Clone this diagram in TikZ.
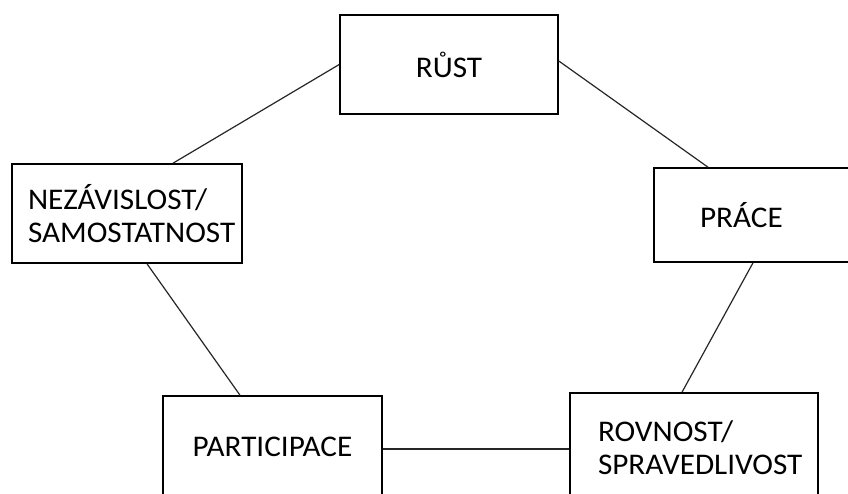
\documentclass[tikz,border=0pt]{standalone}
\usepackage{fontspec}
\setmainfont{Carlito}[FakeStretch=1.04]
\begin{document}
\begin{tikzpicture}[x=1pt,y=-1pt,
  box/.style={draw=black, line width=1.6pt, rectangle, font=\fontsize{30}{33}\selectfont, text=black},
  leftbox/.style={box, align=left},
  link/.style={draw=black!85, line width=1.2pt}]
\useasboundingbox (0,0) rectangle (848,493);
\clip (0,0) rectangle (848,493);
\fill[white] (0,0) rectangle (848,493);
\node[box, minimum width=218pt, minimum height=99pt, inner sep=0pt] (rust) at (449,64.5) {RŮST};
\node[leftbox, minimum width=200pt, minimum height=94pt, inner xsep=46pt, inner ysep=0pt, text width=108pt] (prace) at (754,215) {PRÁCE};
\node[leftbox, minimum width=230pt, minimum height=99pt, inner xsep=16pt, inner ysep=0pt, text width=198pt] (nez) at (127,213.5) {NEZÁVISLOST/\\SAMOSTATNOST};
\node[box, minimum width=219pt, minimum height=102pt, inner sep=0pt] (part) at (272.5,447) {PARTICIPACE};
\node[leftbox, minimum width=248pt, minimum height=109pt, inner xsep=28pt, inner ysep=0pt, text width=192pt] (rov) at (694,447.5) {ROVNOST/\\SPRAVEDLIVOST};
\draw[link] (rust.west) -- ([xshift=46pt]nez.north);
\draw[link] ([yshift=3.5pt]rust.east) -- ([xshift=-46pt]prace.north);
\draw[link] ([xshift=-1pt]prace.south) -- ([xshift=-12pt]rov.north);
\draw[link] ([xshift=20pt]nez.south) -- ([xshift=-32.5pt]part.north);
\draw[link] ([yshift=-2pt]part.east) -- ([yshift=-1.5pt]rov.west);
\end{tikzpicture}
\end{document}
